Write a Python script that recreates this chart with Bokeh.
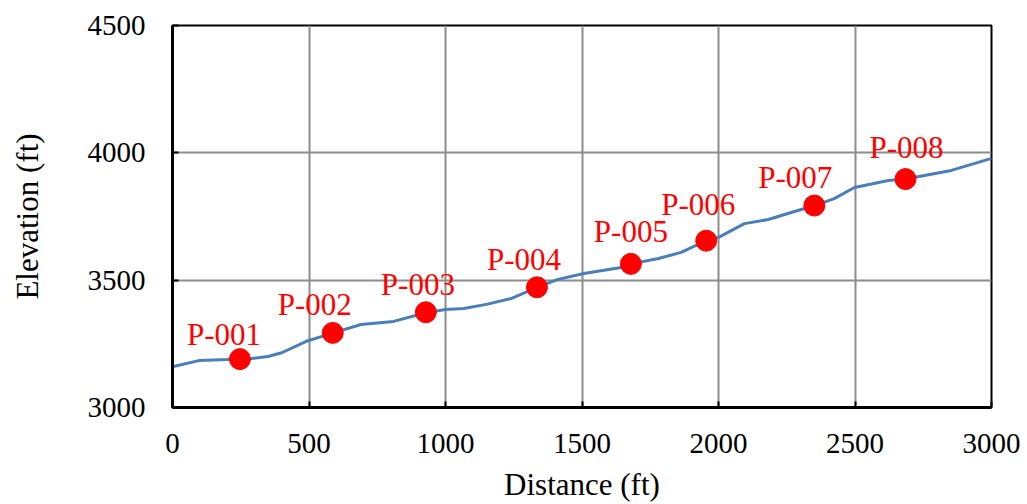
from bokeh.plotting import figure
from bokeh.models import Range1d, FixedTicker, ColumnDataSource
from bokeh.core.properties import value
from bokeh.embed import file_html
from bokeh.resources import INLINE

# Ground profile (distance ft, elevation ft)
profile_x = [0, 100, 200, 290, 350, 400, 490, 590, 690, 810, 928, 1000, 1067, 1150,
             1240, 1335, 1412, 1507, 1643, 1680, 1780, 1863, 1955, 2000, 2083, 2095,
             2182, 2351, 2424, 2498, 2622, 2685, 2853, 3000]
profile_y = [3160, 3185, 3188, 3192, 3200, 3215, 3260, 3293, 3326, 3338, 3372, 3385, 3389, 3405,
             3428, 3472, 3503, 3526, 3550, 3564, 3585, 3609, 3655, 3668, 3715, 3722,
             3738, 3793, 3820, 3864, 3891, 3897, 3931, 3978]

# Points
point_names = ["P-001", "P-002", "P-003", "P-004", "P-005", "P-006", "P-007", "P-008"]
point_x = [247, 587, 928, 1335, 1679, 1955, 2351, 2685]
point_y = [3190, 3293, 3374, 3472, 3564, 3655, 3793, 3897]

# label offsets (screen px)
label_dx = [-16, -18, -8, -13, 0, -8, -19, 1]
label_dy = [-25, -28, -28, -28, -32, -36, -28, -32]

x_ticks = [0, 500, 1000, 1500, 2000, 2500, 3000]
y_ticks = [3000, 3500, 4000, 4500]

FONT = "Liberation Serif"

p = figure(width=1027, height=504, output_backend="svg", toolbar_location=None,
           x_range=Range1d(0, 3000), y_range=Range1d(3000, 4500),
           min_border_left=172, min_border_right=36, min_border_top=25, min_border_bottom=97)

p.background_fill_color = "white"
p.border_fill_color = "white"
p.outline_line_color = "black"
p.outline_line_width = 2

for ax in (p.xaxis[0], p.yaxis[0]):
    ax.axis_line_color = "black"
    ax.axis_line_width = 3
    ax.major_tick_in = 6
    ax.major_tick_out = 0
    ax.major_tick_line_color = "black"
    ax.major_tick_line_width = 2
    ax.minor_tick_line_color = None
    ax.major_label_text_font = FONT
    ax.major_label_text_font_size = "29px"
    ax.major_label_text_color = "black"
    ax.axis_label_text_font = FONT
    ax.axis_label_text_font_size = "31px"
    ax.axis_label_text_font_style = "normal"
    ax.axis_label_text_color = "black"

p.xaxis.ticker = FixedTicker(ticks=x_ticks)
p.yaxis.ticker = FixedTicker(ticks=y_ticks)
p.xaxis.axis_label = "Distance (ft)"
p.yaxis.axis_label = "Elevation (ft)"
p.xaxis.major_label_standoff = 26
p.xaxis.axis_label_standoff = 11
p.yaxis.major_label_standoff = 27
p.yaxis.axis_label_standoff = 40

p.xgrid.ticker = FixedTicker(ticks=x_ticks)
p.ygrid.ticker = FixedTicker(ticks=y_ticks)
p.grid.grid_line_color = "#8c8c8c"
p.grid.grid_line_width = 2

p.line(profile_x, profile_y, line_color="#4a7ebb", line_width=3)

src = ColumnDataSource(dict(x=point_x, y=point_y, name=point_names, dx=label_dx, dy=label_dy))
p.scatter("x", "y", source=src, size=21, fill_color="#ff0000", line_color="#ff0000")
p.text("x", "y", text="name", source=src, x_offset="dx", y_offset="dy",
       text_font=value(FONT), text_font_size="31px", text_color="#ff0000",
       text_align="center", text_baseline="middle")

open("out.html", "w").write(file_html(p, INLINE))
